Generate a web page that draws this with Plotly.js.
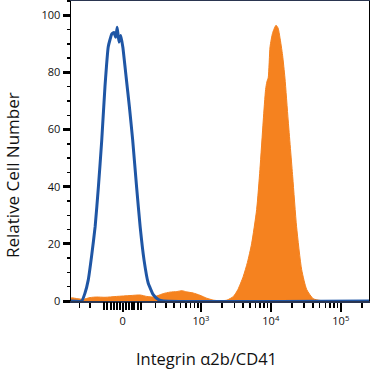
<!DOCTYPE html>
<html><head><meta charset="utf-8">
<script src="https://cdn.plot.ly/plotly-3.0.1.min.js"></script>
<style>html,body{margin:0;padding:0;background:#fff}</style>
</head><body><div id="chart" style="width:370px;height:372px"></div>
<script>
// Histogram channels (display scale, 0-1000) and relative counts
const controlChannel = [0, 36, 47, 58, 69, 81, 92, 103, 114, 125, 137, 144, 150, 155, 161, 167, 174, 185, 196, 207, 220, 232, 245, 259, 276, 293, 310, 1000];
const controlCount   = [0, 0, 2.8, 7.4, 15.6, 26, 40, 56, 75, 89, 93.5, 94, 92.3, 95.8, 90.6, 92.9, 88.8, 78.4, 67.9, 56.3, 40, 26, 14.4, 6.3, 2.2, 0.5, 0, 0];

const stainedChannel = [0, 2, 23, 41, 64, 86, 114, 153, 198, 232, 254, 276, 292, 310, 332, 355, 372, 388, 410, 433, 455, 478, 500, 523,
  545, 560, 578, 592, 606, 623, 634, 645, 653, 657, 662, 668, 677, 688, 695, 701, 710, 718, 729, 744, 757, 774, 791, 813, 836, 869, 1000];
const stainedCount   = [1.0, 1.1, 0.8, 0.6, 1.2, 1.4, 1.3, 1.6, 1.9, 2.1, 1.6, 1.4, 1.9, 2.6, 3.1, 3.3, 3.6, 3.2, 2.8, 2.0, 1.0, 0.3, 0.1, 0.3,
  1.6, 4, 8.6, 13.5, 20, 32, 46, 63, 74, 76.6, 78.3, 89, 94, 96.5, 95.5, 92.3, 86, 78, 63, 43.5, 26, 11, 4, 0.8, 0.2, 0, 0];

// Axis ticks (fluorescence intensity)
const xTickValues = [0, 1e3, 1e4, 1e5];
const xTickLabels = ['0', '10<sup>3</sup>', '10<sup>4</sup>', '10<sup>5</sup>'];
const xClusterTicks = [-100, -80, -60, -45, -30, -15, 15, 30, 45, 60, 80, 100];
const xMinorTicks = [-300, -200, 200, 300, 400, 500, 600, 700, 800, 900,
  2000, 3000, 4000, 5000, 6000, 7000, 8000, 9000,
  20000, 30000, 40000, 50000, 60000, 70000, 80000, 90000, 200000];
const yTickValues = [0, 20, 40, 60, 80, 100];
const xTitle = 'Integrin α2b/CD41';
const yTitle = 'Relative Cell Number';

// biexponential display transform: intensity -> channel
function toChannel(v) { return 173.5 + 102 * Math.asinh(v / 153); }

const traces = [
  { x: stainedChannel, y: stainedCount, type: 'scatter', mode: 'lines',
    fill: 'tozeroy', fillcolor: '#F5821F', line: { color: '#F5821F', width: 1, shape: 'spline', smoothing: 0.6 },
    hoverinfo: 'skip' },
  { x: controlChannel, y: controlCount, type: 'scatter', mode: 'lines',
    line: { color: '#1F56A5', width: 3, shape: 'spline', smoothing: 0.4 }, hoverinfo: 'skip' }
];

const font = "'Open Sans', 'DejaVu Sans', sans-serif";
const layout = {
  width: 370, height: 372,
  margin: { l: 71, r: 1, t: 1, b: 71 },
  paper_bgcolor: '#fff', plot_bgcolor: '#fff',
  showlegend: false,
  font: { family: font, color: '#111' },
  xaxis: {
    range: [0, 1000], showgrid: false, zeroline: false,
    showline: true, linecolor: '#2a3550', linewidth: 2, mirror: true,
    tickmode: 'array', tickvals: xTickValues.map(toChannel), ticktext: xTickLabels,
    ticks: 'outside', ticklen: 9, tickwidth: 2, tickcolor: '#000',
    tickfont: { size: 11, color: '#111' },
    minor: { tickmode: 'array', tickvals: xMinorTicks.map(toChannel), ticks: 'outside', ticklen: 5, tickwidth: 1.5, tickcolor: '#000', showgrid: false }
  },
  xaxis2: {
    overlaying: 'x', anchor: 'y', side: 'bottom', range: [0, 1000],
    showgrid: false, zeroline: false, showline: false, showticklabels: false,
    tickmode: 'array', tickvals: xClusterTicks.map(toChannel),
    ticks: 'outside', ticklen: 8, tickwidth: 2, tickcolor: '#000'
  },
  yaxis: {
    range: [0, 105], showgrid: false, zeroline: false,
    showline: true, linecolor: '#000', linewidth: 1.5, mirror: true,
    tickmode: 'array', tickvals: yTickValues,
    ticks: 'outside', ticklen: 7, tickwidth: 3, tickcolor: '#000',
    tickfont: { size: 11, color: '#111' },
    minor: { dtick: 5, ticks: 'outside', ticklen: 3, tickwidth: 1.5, tickcolor: '#000', showgrid: false }
  },
  annotations: [
    { text: xTitle, xref: 'paper', yref: 'paper', x: 0.455, y: -0.19, xanchor: 'center', yanchor: 'middle',
      showarrow: false, font: { size: 16.5, color: '#111' } },
    { text: yTitle, xref: 'paper', yref: 'paper', x: -0.198, y: 0.42, xanchor: 'center', yanchor: 'middle',
      textangle: -90, showarrow: false, font: { size: 17, color: '#111' } }
  ]
};

// invisible trace to activate xaxis2 (cluster ticks)
traces.push({ x: [0], y: [0], xaxis: 'x2', yaxis: 'y', type: 'scatter', mode: 'markers', marker: { opacity: 0 }, hoverinfo: 'skip' });

Plotly.newPlot('chart', traces, layout, { staticPlot: true, displayModeBar: false });
</script>
</body></html>
